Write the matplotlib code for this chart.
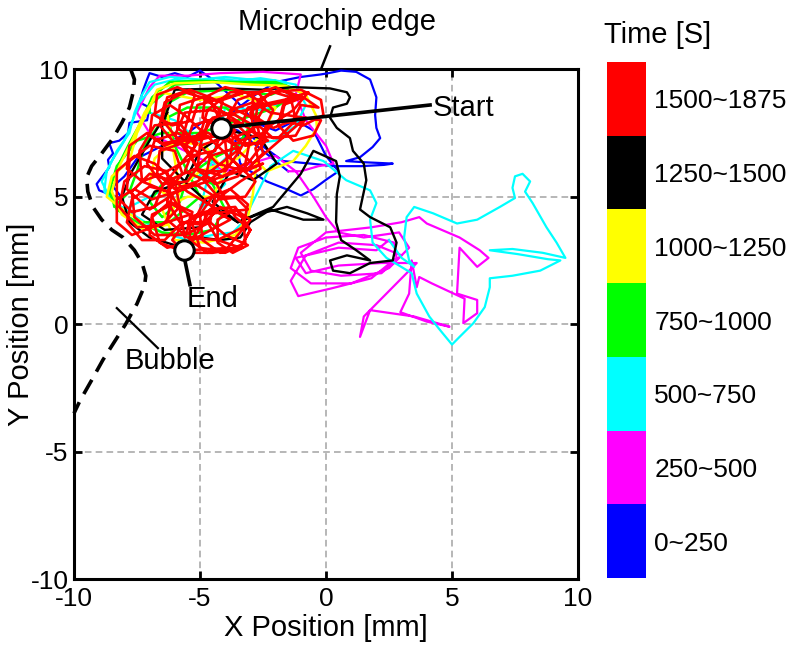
import matplotlib
matplotlib.use("Agg")
import matplotlib.pyplot as plt
import numpy as np

plt.rcParams['font.family'] = ['Liberation Sans', 'DejaVu Sans']

# ---------------- data (mm) ----------------
time_labels = ["0~250", "250~500", "500~750", "750~1000", "1000~1250", "1250~1500", "1500~1875"]
time_colors = ["#0000ff", "#ff00ff", "#00ffff", "#00ff00", "#ffff00", "#000000", "#ff0000"]

blue_path = [(-4.2, 7.7), (-3.6, 8.4), (-2.8, 9.0), (-2.0, 9.5), (-1.0, 9.7), (-0.2, 9.8), (0.1, 9.85),
             (0.6, 9.95), (1.2, 9.9), (1.75, 9.6), (2.0, 8.9), (1.95, 8.2), (2.0, 7.7), (2.15, 7.3),
             (1.85, 6.95), (1.35, 6.55), (0.8, 6.4), (1.6, 6.35), (2.65, 6.3), (2.3, 6.25), (1.4, 6.2),
             (0.3, 6.2), (-0.6, 6.3), (-1.7, 6.4), (-2.4, 6.9), (-3.0, 7.4), (-3.6, 7.2), (-3.4, 6.3),
             (-3.0, 6.0), (-2.35, 5.6), (-1.45, 5.25), (-1.0, 5.05), (-0.5, 5.3), (0.05, 5.7), (0.5, 6.0),
             (0.0, 6.6), (-0.5, 7.6), (-1.2, 8.0), (-2.0, 7.6), (-2.8, 7.9), (-3.5, 8.7), (-4.5, 9.6),
             (-5.0, 9.95), (-5.5, 9.7), (-6.0, 9.85), (-6.5, 9.7), (-7.0, 9.85), (-7.1, 9.6), (-7.25, 9.2),
             (-7.4, 8.7), (-7.0, 8.5), (-7.1, 8.0), (-7.8, 7.9), (-7.85, 7.5), (-8.2, 7.2), (-8.6, 7.1),
             (-8.45, 6.7), (-8.65, 6.45), (-8.6, 6.15), (-9.1, 5.5), (-9.0, 5.25), (-8.6, 5.1), (-8.05, 4.9),
             (-8.45, 5.4), (-8.0, 5.8), (-7.5, 6.5), (-6.5, 7.0), (-5.5, 7.5), (-4.8, 8.0), (-3.5, 7.6),
             (-2.5, 6.8), (-1.5, 6.0)]

magenta_path = [(-1.5, 6.0), (-1.0, 6.0), (-0.3, 6.2), (0.3, 6.3), (0.0, 7.0), (-0.8, 8.0), (-1.2, 9.0),
                (-1.0, 9.8), (-2.5, 9.9), (-4.2, 9.85), (-5.5, 9.75), (-6.6, 9.75), (-7.0, 9.3), (-7.5, 8.3),
                (-7.0, 7.5), (-6.0, 7.0), (-5.0, 6.5), (-4.0, 6.0), (-3.0, 6.3), (-2.0, 6.6), (-1.2, 6.0),
                (-0.5, 5.0), (0.0, 4.2), (0.5, 3.6), (1.5, 3.4), (2.9, 3.6), (3.3, 3.0), (2.5, 2.2), (1.0, 1.6),
                (-0.6, 1.6), (-1.4, 2.2), (-1.1, 3.0), (0.0, 3.4), (1.5, 3.5), (2.7, 3.2), (2.8, 2.6), (1.8, 1.8),
                (0.2, 1.4), (-1.1, 1.1), (-1.4, 1.7), (-0.8, 2.7), (0.5, 3.2), (2.0, 3.1), (3.0, 2.7), (2.2, 2.0),
                (0.6, 1.9), (-0.6, 2.1), (-1.0, 2.8), (0.0, 3.6), (1.8, 3.8), (3.0, 4.0), (3.7, 4.2), (4.0, 3.95),
                (5.3, 3.4), (6.1, 2.9), (6.45, 2.6), (6.0, 2.25), (5.3, 3.0), (5.2, 1.2), (6.0, 0.95), (6.0, 0.43),
                (5.45, 0.04), (5.5, 1.0), (4.2, 1.6), (3.7, 1.85), (3.6, 1.45), (3.4, 2.5), (3.3, 1.2), (2.95, 0.47),
                (4.0, 0.1), (4.9, -0.1), (3.5, 0.3), (1.75, 0.55), (1.35, -0.5), (1.5, 0.3), (2.0, 0.8), (3.0, 1.8),
                (3.6, 2.4), (2.2, 2.4), (0.5, 2.3), (-0.8, 2.0), (-1.2, 2.6), (0.5, 3.0), (2.0, 2.9), (2.5, 3.3)]

cyan_path = [(2.5, 3.3), (3.0, 2.6), (3.5, 2.25), (3.3, 2.5), (3.1, 3.4), (3.2, 4.2), (3.5, 4.6), (4.25, 4.35),
             (5.2, 3.95), (6.0, 4.1), (6.9, 4.6), (7.5, 4.95), (7.4, 5.35), (7.5, 5.8), (7.8, 5.9), (8.1, 5.6),
             (7.9, 5.2), (8.2, 4.75), (8.75, 3.8), (9.15, 3.2), (9.5, 2.6), (8.6, 2.8), (7.4, 2.95), (6.5, 2.9),
             (7.6, 2.75), (8.8, 2.55), (9.3, 2.5), (8.5, 2.1), (7.4, 1.9), (6.5, 1.8), (6.5, 1.45), (6.3, 0.67),
             (5.85, 0.04), (5.3, -0.5), (5.0, -0.8), (4.5, -0.2), (4.1, 0.3), (3.6, 1.2), (3.4, 2.0), (2.4, 2.6),
             (1.85, 3.2), (1.75, 4.1), (2.0, 4.75), (1.75, 5.25), (0.8, 5.65), (-0.1, 6.4), (-1.3, 6.8),
             (-2.2, 6.2), (-2.8, 5.0), (-3.3, 4.0), (-3.7, 3.6), (-4.5, 3.5), (-5.5, 3.3), (-6.5, 3.6),
             (-7.5, 4.2), (-8.3, 4.7), (-8.8, 5.2), (-8.7, 6.0), (-8.3, 6.8), (-7.8, 7.5), (-7.6, 8.3),
             (-7.3, 9.0), (-7.0, 9.5), (-6.2, 9.7), (-5.0, 9.6), (-4.0, 9.7), (-3.0, 9.6), (-2.0, 9.55),
             (-1.2, 9.4), (-0.8, 8.6), (-1.2, 7.8), (-2.0, 7.2), (-3.5, 7.0), (-4.5, 6.0), (-6.0, 5.5),
             (-7.0, 5.0), (-8.0, 4.5), (-8.6, 5.0), (-8.9, 5.6), (-8.5, 6.4), (-8.0, 7.2), (-7.7, 7.9),
             (-7.4, 8.7), (-6.8, 9.4), (-6.0, 9.6), (-5.2, 9.5), (-4.4, 9.65), (-3.5, 9.55), (-2.6, 9.65),
             (-1.6, 9.5), (-1.5, 8.8), (-2.5, 8.4), (-4.0, 8.5), (-5.0, 4.5), (-4.0, 5.5), (-4.8, 7.0),
             (-6.0, 8.0), (-7.0, 8.3)]

green_path = [(-7.0, 8.3), (-7.0, 8.6), (-6.0, 9.4), (-4.5, 9.5), (-3.0, 9.45), (-1.8, 9.4), (-1.3, 9.0),
              (-2.0, 8.5), (-3.5, 8.0), (-5.0, 7.5), (-6.5, 7.5), (-7.5, 7.2), (-8.3, 6.2), (-8.6, 5.2),
              (-8.3, 4.5), (-7.5, 4.0), (-6.5, 3.6), (-5.5, 3.5), (-4.5, 3.7), (-4.0, 4.5), (-4.5, 5.5),
              (-5.5, 6.0), (-6.5, 5.5), (-7.0, 4.8), (-6.5, 4.2), (-5.8, 4.8), (-5.5, 5.8), (-4.5, 6.5),
              (-3.5, 7.0), (-3.0, 7.8), (-4.0, 8.5), (-5.5, 8.5), (-6.5, 8.0), (-7.2, 7.0), (-7.5, 6.0),
              (-7.8, 5.2), (-8.4, 4.6), (-8.55, 5.5), (-8.2, 6.3), (-7.8, 7.1), (-7.3, 8.0), (-6.9, 8.9),
              (-6.2, 9.5), (-5.0, 9.55), (-3.5, 9.5), (-2.0, 9.5), (-1.4, 9.3), (-2.2, 9.0), (-3.8, 9.2),
              (-5.5, 9.1), (-6.4, 8.6), (-6.0, 7.0), (-5.0, 5.0), (-6.2, 4.0), (-7.3, 4.0)]

yellow_path = [(-7.3, 4.0), (-8.2, 4.6), (-8.7, 5.0), (-8.5, 5.8), (-7.8, 6.4), (-7.5, 7.5), (-7.0, 8.5),
               (-6.7, 9.2), (-6.0, 9.45), (-4.5, 9.5), (-3.0, 9.4), (-1.6, 9.35), (-0.8, 9.0), (-0.4, 8.2),
               (-0.36, 7.7), (-0.8, 7.0), (-1.3, 6.4), (-2.35, 6.0), (-2.75, 6.4), (-2.9, 5.1), (-3.1, 4.2),
               (-3.6, 3.5), (-4.8, 3.2), (-6.0, 3.3), (-6.5, 4.5), (-5.5, 5.0), (-4.5, 5.0), (-4.0, 6.0),
               (-4.8, 7.0), (-6.0, 7.2), (-6.8, 6.5), (-7.0, 5.5), (-6.2, 5.0), (-5.0, 6.0), (-3.5, 6.5),
               (-2.5, 7.5), (-2.0, 8.5), (-3.5, 9.0), (-5.0, 8.8), (-6.6, 9.1), (-7.2, 8.3), (-7.7, 7.2),
               (-8.2, 6.2), (-8.5, 5.2), (-8.1, 4.3), (-7.2, 3.7), (-6.3, 3.9), (-5.8, 5.2), (-6.3, 8.3)]

black_path = [(-6.3, 8.3), (-7.0, 7.2), (-7.7, 6.0), (-8.1, 5.0), (-7.8, 4.0), (-7.0, 3.4), (-6.0, 3.1),
              (-5.0, 3.4), (-4.2, 3.3), (-3.4, 3.4), (-3.0, 4.0), (-2.35, 4.4), (-1.55, 4.6), (-0.75, 4.35),
              (-0.1, 4.1), (-0.9, 4.1), (-2.2, 4.5), (-3.5, 4.0), (-4.5, 4.6), (-5.5, 5.5), (-6.5, 6.5),
              (-6.5, 7.8), (-6.0, 9.2), (-4.0, 9.25), (-2.5, 9.2), (-1.3, 9.3), (0.16, 9.25), (0.83, 9.1),
              (0.95, 8.9), (0.83, 8.65), (0.28, 8.5), (0.16, 8.1), (0.43, 7.7), (0.95, 7.3), (1.07, 6.8),
              (1.5, 6.3), (1.6, 5.65), (1.35, 4.5), (1.75, 4.2), (2.55, 3.8), (2.8, 3.2), (2.65, 2.5),
              (1.75, 2.4), (0.95, 2.0), (0.28, 2.1), (0.16, 2.5), (0.83, 2.7), (1.75, 2.5), (1.2, 2.9),
              (0.6, 3.3), (0.4, 4.0), (0.43, 5.1), (0.55, 5.8), (0.4, 6.4), (-0.5, 6.8), (-1.0, 5.9),
              (-2.1, 4.6), (-3.5, 4.0), (-4.5, 4.8), (-3.8, 6.0), (-2.9, 5.65), (-1.95, 6.3), (-2.6, 7.3),
              (-3.8, 7.6), (-5.0, 6.8), (-5.6, 5.6), (-6.8, 5.2), (-7.3, 4.3), (-6.4, 3.7), (-5.0, 3.8)]

red_path = [(-5.0, 3.8), (-4.2, 4.6), (-3.3, 4.2), (-3.2, 3.2), (-4.0, 2.8), (-5.0, 3.0), (-5.3, 3.9),
            (-4.8, 4.9), (-3.8, 5.3), (-3.1, 4.7), (-3.3, 3.8), (-4.3, 3.3), (-5.5, 3.4), (-6.3, 4.1),
            (-6.1, 5.1), (-5.2, 5.5), (-4.4, 5.0), (-4.6, 4.0), (-5.6, 3.5), (-6.8, 3.5), (-7.6, 4.2),
            (-7.7, 5.2), (-7.0, 5.9), (-6.0, 5.6), (-5.8, 4.6), (-6.5, 3.9), (-7.5, 3.8), (-8.2, 4.6),
            (-8.0, 5.6), (-7.2, 6.2), (-6.3, 6.0), (-6.2, 5.0), (-7.0, 4.5), (-7.9, 5.3), (-7.8, 6.4),
            (-7.0, 7.0), (-6.0, 6.8), (-5.7, 5.9), (-6.3, 5.2), (-7.3, 5.6), (-7.4, 6.8), (-6.8, 7.8),
            (-5.8, 7.9), (-5.2, 7.0), (-5.6, 6.0), (-4.7, 5.6), (-3.9, 6.2), (-4.0, 7.2), (-4.9, 7.6),
            (-5.6, 7.0), (-5.1, 6.1), (-4.1, 5.8), (-3.2, 6.3), (-3.0, 7.3), (-3.7, 8.0), (-4.7, 7.9),
            (-5.0, 7.0), (-4.3, 6.3), (-3.2, 6.0), (-2.5, 6.7), (-2.7, 7.7), (-3.6, 8.2), (-4.6, 8.4),
            (-5.6, 8.3), (-6.0, 7.4), (-5.4, 6.6), (-4.4, 6.8), (-4.1, 7.8), (-4.6, 8.8), (-5.6, 9.1),
            (-6.4, 8.7), (-6.6, 7.8), (-6.0, 7.1), (-5.0, 7.4), (-4.7, 8.4), (-3.8, 9.1), (-2.7, 9.1),
            (-2.1, 8.4), (-2.5, 7.5), (-3.4, 7.2), (-4.0, 7.9), (-3.5, 8.8), (-2.4, 9.2), (-1.4, 8.9),
            (-1.2, 8.0), (-1.9, 7.3), (-2.8, 7.4), (-3.0, 8.3), (-2.2, 9.1), (-1.0, 9.2), (-0.2, 8.8),
            (-0.1, 8.2), (-0.9, 7.8), (-1.8, 8.0), (-1.6, 8.8), (-0.7, 9.1), (-1.3, 8.4), (-2.2, 7.8),
            (-2.8, 6.9), (-2.6, 6.1), (-3.4, 5.6), (-4.2, 5.0), (-4.8, 4.2), (-4.3, 3.3), (-3.4, 3.0),
            (-3.0, 3.7), (-3.6, 4.6), (-4.6, 4.5), (-5.1, 3.6), (-5.8, 2.9), (-6.6, 3.2), (-6.9, 4.2),
            (-6.2, 4.8), (-5.3, 4.4), (-5.6, 3.4), (-5.8, 4.5), (-6.2, 5.2), (-7.0, 5.4), (-7.7, 4.9),
            (-7.9, 4.0), (-7.3, 3.3), (-6.4, 3.3), (-5.8, 3.9), (-4.9, 4.3), (-3.1, 4.5), (-3.6, 5.0),
            (-4.5, 5.0), (-5.0, 4.3), (-4.9, 3.3), (-4.2, 2.8), (-3.4, 3.0), (-3.0, 3.7), (-3.6, 4.2),
            (-4.4, 5.6), (-5.2, 6.1), (-6.1, 5.7), (-6.3, 4.8), (-5.8, 4.0), (-4.9, 3.9), (-4.3, 4.5),
            (-5.5, 5.2), (-6.8, 6.3), (-7.6, 6.6), (-8.3, 6.0), (-8.3, 5.0), (-7.7, 4.4), (-6.8, 4.6),
            (-6.5, 5.4), (-5.1, 7.1), (-5.9, 7.5), (-6.8, 7.2), (-7.1, 6.3), (-6.5, 5.5), (-5.5, 5.6),
            (-5.0, 6.3), (-3.6, 7.6), (-4.3, 8.1), (-5.3, 7.8), (-5.6, 6.9), (-5.0, 6.0), (-4.0, 6.0),
            (-3.5, 6.7), (-2.4, 8.6), (-3.2, 9.1), (-4.1, 8.8), (-4.3, 7.9), (-3.7, 7.1), (-2.7, 7.1),
            (-2.3, 7.8), (-4.6, 8.9), (-5.4, 9.2), (-6.3, 8.9), (-6.5, 8.0), (-5.9, 7.3), (-4.9, 7.4),
            (-4.5, 8.1), (-0.9, 8.9), (-1.8, 9.2), (-2.7, 8.8), (-2.8, 7.9), (-2.1, 7.3), (-1.2, 7.4),
            (-0.8, 8.1), (-2.9, 6.3), (-3.6, 6.9), (-4.6, 6.6), (-4.8, 5.6), (-4.2, 4.9), (-3.2, 5.0),
            (-2.8, 5.6), (-5.6, 8.2), (-6.2, 8.6), (-6.9, 8.2), (-7.0, 7.4), (-6.4, 7.0), (-5.7, 7.3),
            (-5.2, 9.0), (-5.9, 9.3), (-6.7, 9.0), (-6.8, 8.2), (-6.1, 7.8), (-5.3, 8.0), (-5.1, 8.6),
            (-3.2, 9.1), (-4.0, 9.3), (-4.8, 8.9), (-4.9, 8.1), (-4.2, 7.7), (-3.3, 7.9), (-3.1, 8.5),
            (-1.2, 8.9), (-2.0, 9.3), (-2.9, 9.0), (-2.9, 8.2), (-2.1, 7.7), (-1.3, 8.0), (-1.0, 8.6),
            (-0.3, 8.5), (-0.9, 8.9), (-1.7, 8.6), (-1.9, 7.8), (-1.3, 7.2), (-0.5, 7.4), (-0.2, 8.0),
            (-2.2, 8.3), (-2.9, 8.7), (-3.8, 8.4), (-3.9, 7.5), (-3.2, 7.0), (-2.3, 7.2), (-4.2, 8.4),
            (-4.9, 8.9), (-5.8, 8.6), (-5.9, 7.7), (-5.2, 7.2), (-4.3, 7.4), (-6.5, 7.1), (-7.1, 7.5),
            (-7.8, 7.0), (-7.9, 6.1), (-7.3, 5.6), (-6.5, 5.9), (-5.0, 6.7), (-5.7, 7.1), (-6.6, 6.8),
            (-6.7, 5.9), (-6.0, 5.3), (-5.1, 5.6), (-3.4, 6.9), (-4.1, 7.3), (-5.0, 7.0), (-5.1, 6.1),
            (-4.4, 5.5), (-3.5, 5.8), (-2.4, 7.2), (-3.0, 7.6), (-3.7, 7.3), (-3.8, 6.5), (-3.2, 6.0),
            (-2.5, 6.3), (-6.9, 4.9), (-7.6, 5.3), (-8.3, 4.9), (-8.3, 4.0), (-7.7, 3.5), (-6.9, 3.8),
            (-5.4, 4.3), (-6.1, 4.7), (-6.9, 4.3), (-7.0, 3.5), (-6.3, 3.0), (-5.5, 3.2), (-3.8, 4.1),
            (-4.5, 4.5), (-5.4, 4.2), (-5.4, 3.3), (-4.7, 2.8), (-3.9, 3.0), (-3.0, 4.1), (-3.6, 4.5),
            (-4.3, 4.1), (-4.3, 3.2), (-3.7, 2.8), (-3.1, 3.1), (-4.0, 3.5), (-4.6, 4.0), (-5.6, 4.0),
            (-6.1, 3.3), (-5.6, 2.8), (-4.5, 2.8), (-3.3, 3.0), (-4.7, 2.95), (-6.0, 2.85), (-5.63, 2.92)]

bubble_x = [-7.75, -7.6, -7.65, -7.8, -8.1, -8.45, -8.9, -9.3, -9.5, -9.45, -9.25, -8.9, -8.5, -8.05,
            -7.6, -7.3, -7.15, -7.2, -7.5, -7.95, -8.4, -8.85, -9.3, -9.76, -10.0]
bubble_y = [10.0, 9.6, 9.1, 8.5, 7.9, 7.3, 6.7, 6.2, 5.75, 5.2, 4.6, 4.1, 3.7, 3.4, 2.9, 2.4, 1.9, 1.5,
            0.8, 0.0, -0.7, -1.4, -2.2, -3.0, -3.5]

start_pt = (-4.17, 7.7)
end_pt = (-5.63, 2.92)

# ---------------- figure ----------------
fig = plt.figure(figsize=(7.92, 6.46), dpi=100)
ax = fig.add_axes([0.0934, 0.1037, 0.6364, 0.789])
ax.set_xlim(-10, 10)
ax.set_ylim(-10, 10)
ticks = [-10, -5, 0, 5, 10]
ax.set_xticks(ticks)
ax.set_yticks(ticks)
ax.set_xticklabels([str(t) for t in ticks], fontsize=19)
ax.set_yticklabels([str(t) for t in ticks], fontsize=19)
ax.tick_params(direction='in', length=6, width=2, top=True, right=True, pad=6)
ax.tick_params(axis='y', pad=4)
for s in ax.spines.values():
    s.set_linewidth(2.2)
ax.grid(True, color='#aaaaaa', linestyle=(0, (4, 2.5)), linewidth=1.2)
ax.set_axisbelow(True)
ax.set_xlabel("X Position [mm]", fontsize=21, labelpad=2)
ax.set_ylabel("Y Position [mm]", fontsize=21)
ax.yaxis.set_label_coords(-0.077, 0.5)

paths = [blue_path, magenta_path, cyan_path, green_path, yellow_path, black_path, red_path]
widths = [1.6, 1.6, 1.6, 1.8, 1.8, 1.7, 1.9]
for p, c, w in zip(paths, time_colors, widths):
    arr = np.array(p)
    ax.plot(arr[:, 0], arr[:, 1], color=c, lw=w, solid_joinstyle='round', zorder=3)

# bubble boundary
ax.plot(bubble_x, bubble_y, color='black', lw=2.6, linestyle=(0, (4.5, 2.6)), zorder=4, clip_on=False)

# annotations
ax.plot([-8.3, -6.67], [0.63, -0.94], color='black', lw=1.6, zorder=5)
ax.text(-6.2, -1.45, "Bubble", fontsize=21, ha='center', va='center', zorder=6)

ax.plot([start_pt[0], 4.13], [start_pt[1], 8.6], color='black', lw=2.6, zorder=5)
ax.plot([start_pt[0]], [start_pt[1]], marker='o', ms=14, mfc='white', mec='black', mew=2.2, zorder=7)
ax.text(5.45, 8.47, "Start", fontsize=21, ha='center', va='center', zorder=6)

ax.plot([-5.62, -5.4], [2.6, 1.55], color='black', lw=2.6, zorder=5)
ax.plot([end_pt[0]], [end_pt[1]], marker='o', ms=14, mfc='white', mec='black', mew=2.2, zorder=7)
ax.text(-4.52, 1.0, "End", fontsize=21, ha='center', va='center', zorder=6)

ax.plot([-0.2, 0.16], [10.0, 10.9], color='black', lw=1.8, clip_on=False, zorder=6)
ax.text(0.44, 11.85, "Microchip edge", fontsize=21, ha='center', va='center', clip_on=False)

# colorbar
cax = fig.add_axes([0.7664, 0.105, 0.049, 0.799])
for i, c in enumerate(time_colors):
    cax.bar(0, 1, bottom=i, width=1, color=c, edgecolor='none')
cax.set_xlim(-0.5, 0.5)
cax.set_ylim(0, len(time_colors))
cax.set_xticks([])
cax.set_yticks([i + 0.5 for i in range(len(time_colors))])
cax.set_yticklabels(time_labels, fontsize=19)
cax.yaxis.tick_right()
cax.tick_params(axis='y', length=0, pad=6)
for s in cax.spines.values():
    s.set_visible(False)
fig.text(0.762, 0.946, "Time [S]", fontsize=21, ha='left', va='center')

fig.savefig("out.png", dpi=100)
